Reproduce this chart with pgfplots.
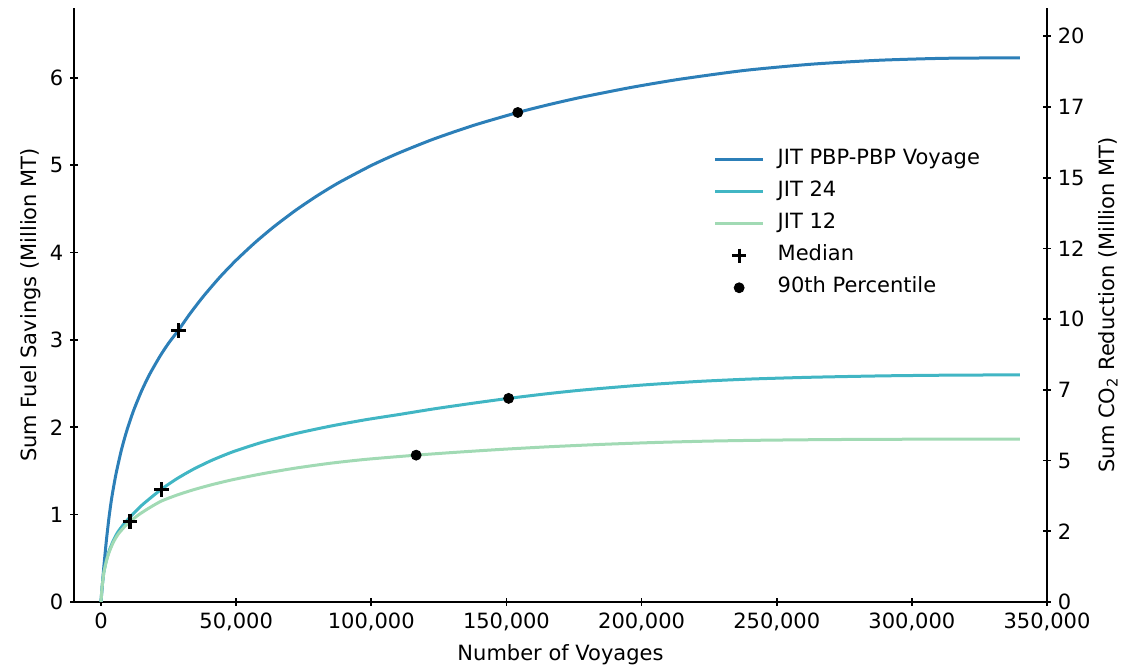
\documentclass[border=0pt]{standalone}
\usepackage{pgfplots}
\pgfplotsset{compat=1.18}
\usepackage{fontspec}
\setmainfont{DejaVu Sans}

\definecolor{jitpbp}{HTML}{2C7FB8}
\definecolor{jitTF}{HTML}{41B6C4}
\definecolor{jitTW}{HTML}{A1DAB4}

\begin{document}
\begin{tikzpicture}
\pgfplotsset{
  every axis/.append style={
    scale only axis, width=486.5pt, height=297pt,
    font=\fontsize{10.5}{12.6}\selectfont,
    /pgf/number format/assume math mode=true,
    tick style={black, line width=0.85pt},
    major tick length=3.7pt,
    tick align=outside,
    xmin=-10000, xmax=350000, ymin=0,
  },
  curve/.style={line width=1.5pt, smooth, tension=0.4,
    legend image code/.code={\draw[##1] (0pt,0pt) -- (24pt,0pt);}},
  dots/.style={only marks, black,
    legend image code/.code={\draw[##1] plot coordinates {(12pt,0pt)};}},
}
\begin{axis}[
  ymax=6.8,
  axis x line=bottom, axis y line=left,
  axis line style={black, line width=0.85pt, -},
  xtick={0,50000,100000,150000,200000,250000,300000,350000},
  scaled x ticks=false,
  xticklabel style={/pgf/number format/.cd, 1000 sep={,}, fixed},
  ytick={0,1,2,3,4,5,6},
  xlabel={Number of Voyages},
  ylabel={Sum Fuel Savings (Million MT)},
  ylabel style={yshift=-2.5pt},
  legend cell align=left,
  legend style={draw=none, fill=none, inner sep=0pt,
    at={(0.657,0.762)}, anchor=north west,
    row sep=6pt, column sep=6.5pt,
    nodes={inner sep=0pt, text height=7.6pt, text depth=2.4pt}},
]
\coordinate (sw) at (rel axis cs:0,0);
\coordinate (ne) at (rel axis cs:1,1);

% JIT PBP-PBP voyage
\addplot[curve, color=jitpbp] coordinates {
 (0,0) (500,0.2) (1000,0.39) (2000,0.71) (3000,0.98) (4000,1.2)
 (5500,1.46) (7500,1.736) (9500,1.958) (12000,2.188) (15000,2.416)
 (18000,2.608) (22000,2.823) (25000,2.963) (28600,3.11) (33000,3.304)
 (38000,3.504) (44000,3.72) (50000,3.913) (57000,4.115) (64000,4.297)
 (72000,4.484) (80000,4.651) (88000,4.801) (100000,4.997) (110000,5.138)
 (123000,5.299) (138000,5.458) (154200,5.604) (166000,5.696) (178000,5.78)
 (196000,5.89) (214000,5.984) (238000,6.085) (263000,6.157) (288000,6.202)
 (312000,6.224) (340000,6.23)
};
\addlegendentry{JIT PBP-PBP Voyage}

% JIT 24
\addplot[curve, color=jitTF] coordinates {
 (0,0) (300,0.14) (1000,0.33) (2000,0.48) (3000,0.585) (4500,0.70)
 (6200,0.80) (8500,0.895) (10700,0.97) (15000,1.105) (22300,1.29)
 (28000,1.41) (34000,1.517) (41000,1.622) (49000,1.722) (60000,1.832)
 (72000,1.928) (85000,2.014) (98000,2.087) (110000,2.145) (123000,2.21)
 (137000,2.273) (150800,2.331) (165000,2.384) (178000,2.426) (200000,2.483)
 (221000,2.525) (240000,2.552) (263000,2.573) (290000,2.589) (315000,2.597)
 (340000,2.6)
};
\addlegendentry{JIT 24}

% JIT 12
\addplot[curve, color=jitTW] coordinates {
 (0,0) (300,0.14) (1000,0.33) (2000,0.47) (3000,0.57) (4500,0.68)
 (6200,0.77) (8500,0.855) (10700,0.92) (14000,1.0) (18000,1.08)
 (22300,1.155) (28000,1.223) (34000,1.283) (41000,1.343) (49000,1.402)
 (60000,1.47) (72000,1.533) (85000,1.589) (98000,1.633) (116600,1.681)
 (130000,1.711) (147500,1.746) (165000,1.776) (185000,1.804) (205000,1.826)
 (225000,1.842) (245000,1.852) (270000,1.8595) (300000,1.8634) (340000,1.865)
};
\addlegendentry{JIT 12}

% medians
\addplot[dots, mark=+, mark size=3.6pt, line width=1.6pt] coordinates {
 (28600,3.11) (22300,1.29) (10700,0.92)
};
\addlegendentry{Median}

% 90th percentiles
\addplot[dots, mark=*, mark size=2.5pt] coordinates {
 (154200,5.604) (150800,2.331) (116600,1.681)
};
\addlegendentry{90th Percentile}
\end{axis}

\begin{axis}[
  ymax=21.0,
  axis x line=none, axis y line=right,
  axis line style={black, line width=0.85pt, -},
  yticklabel pos=right, ylabel near ticks,
  ytick={0,2.5,5,7.5,10,12.5,15,17.5,20},
  yticklabels={0,2,5,7,10,12,15,17,20},
  ylabel={Sum CO\textsubscript{2} Reduction (Million MT)},
]
\end{axis}

\pgfresetboundingbox
\useasboundingbox ([shift={(-37pt,-34.5pt)}]sw) rectangle ([shift={(39.5pt,4pt)}]ne);
\end{tikzpicture}
\end{document}
